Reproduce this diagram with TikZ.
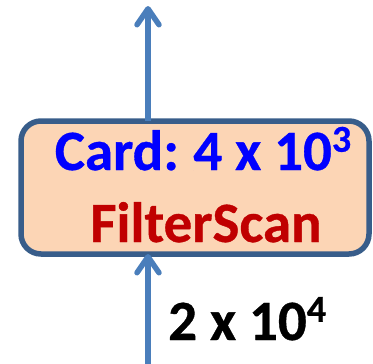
\documentclass[tikz,border=0pt]{standalone}
\usepackage{fontspec}
\setmainfont{Carlito}
\usetikzlibrary{arrows.meta}
\definecolor{boxfill}{HTML}{FCD5B5}
\definecolor{boxline}{HTML}{385D8A}
\definecolor{flow}{HTML}{4A7EBB}
\definecolor{cardblue}{HTML}{0000FF}
\definecolor{opred}{HTML}{C00000}
\newcommand\expo[1]{\raisebox{0.32em}{\fontsize{38}{38}\selectfont #1}}
\tikzset{
  opbox/.style={draw=boxline, fill=boxfill, line width=5.5pt, rounded corners=20pt,
    minimum width=348pt, minimum height=133pt, outer sep=0pt, inner sep=0pt},
  flowarrow/.style={draw=flow, line width=5.5pt,
    -{Straight Barb[length=16pt,width=22pt,round]}},
  bigtext/.style={font=\fontsize{57}{62}\selectfont\bfseries\addfontfeature{FakeBold=0.6}, inner sep=0pt},
}
\begin{document}
\begin{tikzpicture}[x=1pt, y=-1pt]
  \useasboundingbox (0,0) rectangle (373,364);
  % operator box
  \node[opbox] (filt) at (195,187.5) {};
  \node[bigtext, text=cardblue, anchor=base] (card) at (203,170) {Card:\hspace{-0.05em} 4 x 10\expo{3}};
  \node[bigtext, text=opred, anchor=base] (op) at (206,242) {FilterScan};
  % input and output flows
  \coordinate (src) at (148,364);
  \coordinate (dst) at (148,6);
  \draw[flowarrow] (src) -- (filt.south -| src);
  \draw[flowarrow] (filt.north -| dst) -- (dst);
  % input cardinality
  \node[bigtext, anchor=base west] (incard) at (168,340) {2 x 10\expo{4}};
\end{tikzpicture}
\end{document}
